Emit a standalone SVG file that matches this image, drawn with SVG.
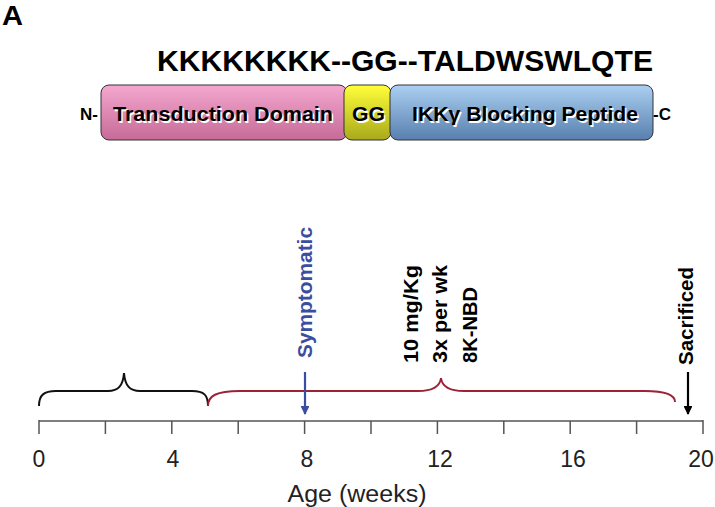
<svg xmlns="http://www.w3.org/2000/svg" width="715" height="507" viewBox="0 0 715 507">
<defs>
<linearGradient id="gPink" x1="0" y1="0" x2="0" y2="1"><stop offset="0" stop-color="#f4a8cf"/><stop offset="1" stop-color="#c76a98"/></linearGradient>
<linearGradient id="gYel" x1="0" y1="0" x2="0" y2="1"><stop offset="0" stop-color="#ffff3a"/><stop offset="1" stop-color="#a9a91c"/></linearGradient>
<linearGradient id="gBlue" x1="0" y1="0" x2="0" y2="1"><stop offset="0" stop-color="#acd0f2"/><stop offset="1" stop-color="#587fae"/></linearGradient>
<marker id="arrB" viewBox="0 0 10 10" refX="9" refY="5" markerWidth="4" markerHeight="4" orient="auto"><path d="M0,0 L10,5 L0,10 z" fill="#3b4da0"/></marker>
<marker id="arrK" viewBox="0 0 10 10" refX="9" refY="5" markerWidth="4" markerHeight="4" orient="auto"><path d="M0,0 L10,5 L0,10 z" fill="#000"/></marker>
</defs>
<style>
text{font-family:"Liberation Sans",Arial,sans-serif;}
.b{font-weight:bold;}
.box{stroke:#333;stroke-width:1;}
.in{font-weight:bold;font-size:21px;fill:#000;}
.sh{font-weight:bold;font-size:21px;fill:#fff;}
.ax{stroke:#555;stroke-width:1.5;fill:none;}
.num{font-size:23px;fill:#222;text-anchor:middle;}
.rot{font-size:20px;font-weight:bold;}
</style>
<rect width="715" height="507" fill="#fff"/>
<text x="2" y="25" class="b" font-size="27" textLength="21" lengthAdjust="spacingAndGlyphs">A</text>
<text x="157" y="71" class="b" font-size="30" textLength="496" lengthAdjust="spacingAndGlyphs">KKKKKKKK--GG--TALDWSWLQTE</text>

<g id="nterm"><text x="80" y="120" class="b" font-size="17">N-</text></g>
<g id="transduction">
<rect class="box" x="101" y="85" width="246" height="55" rx="8" fill="url(#gPink)"/>
<text class="sh" x="114.5" y="122.5" textLength="220" lengthAdjust="spacingAndGlyphs">Transduction Domain</text>
<text class="in" x="113" y="121" textLength="220" lengthAdjust="spacingAndGlyphs">Transduction Domain</text>
</g>
<g id="gg">
<rect class="box" x="344" y="85" width="47" height="55" rx="8" fill="url(#gYel)"/>
<text class="sh" x="353.5" y="122.5" textLength="33" lengthAdjust="spacingAndGlyphs">GG</text>
<text class="in" x="352" y="121" textLength="33" lengthAdjust="spacingAndGlyphs">GG</text>
</g>
<g id="ikk">
<rect class="box" x="390" y="85" width="263" height="55" rx="8" fill="url(#gBlue)"/>
<text class="sh" x="413.5" y="122.5" textLength="226" lengthAdjust="spacingAndGlyphs">IKKγ Blocking Peptide</text>
<text class="in" x="412" y="121" textLength="226" lengthAdjust="spacingAndGlyphs">IKKγ Blocking Peptide</text>
</g>
<g id="cterm"><text x="653" y="120" class="b" font-size="17">-C</text></g>

<g id="axis">
<path class="ax" d="M39,421 H703 M39,420 V434 M105.4,421 V434 M171.8,421 V434 M238.2,421 V434 M304.6,421 V434 M371,421 V434 M437.4,421 V434 M503.8,421 V434 M570.2,421 V434 M636.6,421 V434 M703,420 V434"/>
<text class="num" x="39" y="467">0</text>
<text class="num" x="173" y="467">4</text>
<text class="num" x="307" y="467">8</text>
<text class="num" x="440" y="467">12</text>
<text class="num" x="573" y="467">16</text>
<text class="num" x="701" y="467">20</text>
<text class="num" x="357" y="502" textLength="139" lengthAdjust="spacingAndGlyphs">Age (weeks)</text>
</g>

<g id="connectors">
<path d="M39,406 C39,395 44,391 56,391 H108 C118,391 123,386 124,373 C125,386 130,391 140,391 H192 C204,391 208,395 208,406" fill="none" stroke="#111" stroke-width="2"/>
<path d="M208,406 C208,396 216,391 240,391 H418 C432,391 440,387 441,378 C442,387 450,391 464,391 H645 C665,391 675,395 675,402" fill="none" stroke="#9b2335" stroke-width="2"/>
<line x1="305" y1="372" x2="305" y2="414" stroke="#3b4da0" stroke-width="2.2" marker-end="url(#arrB)"/>
<line x1="688" y1="372" x2="688" y2="414" stroke="#000" stroke-width="2.2" marker-end="url(#arrK)"/>
</g>

<g id="symptomatic"><text class="rot" transform="translate(312,358) rotate(-90)" fill="#3b4da0" textLength="131" lengthAdjust="spacingAndGlyphs">Symptomatic</text></g>
<g id="sacrificed"><text class="rot" transform="translate(693,365) rotate(-90)" fill="#000" textLength="98" lengthAdjust="spacingAndGlyphs">Sacrificed</text></g>
<g id="treatment">
<text class="rot" transform="translate(418,363) rotate(-90)" textLength="98" lengthAdjust="spacingAndGlyphs">10 mg/Kg</text>
<text class="rot" transform="translate(447,363) rotate(-90)" textLength="98" lengthAdjust="spacingAndGlyphs">3x per wk</text>
<text class="rot" transform="translate(477,363) rotate(-90)" textLength="76" lengthAdjust="spacingAndGlyphs">8K-NBD</text>
</g>
</svg>
